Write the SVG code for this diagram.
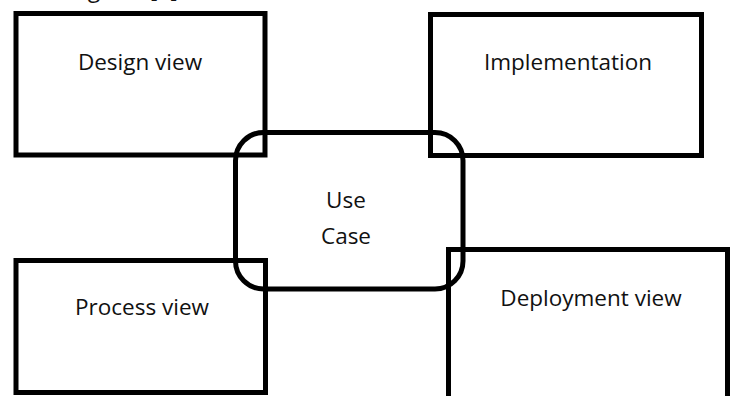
<svg xmlns="http://www.w3.org/2000/svg" width="737" height="396" viewBox="0 0 737 396">
<style>
.box{fill:none;stroke:#000;stroke-width:5}
.lbl{font-family:"Open Sans","Liberation Sans",sans-serif;font-size:22.5px;fill:#111;text-anchor:middle}
</style>
<rect width="737" height="396" fill="#fff"/>
<text x="75" y="-3.5" font-family="Open Sans, Liberation Sans, sans-serif" font-size="23" fill="#111">agram [5]</text>
<g id="design">
<rect class="box" x="16" y="13.5" width="249" height="141.5"/>
<text class="lbl" x="140" y="70">Design view</text>
</g>
<g id="implementation">
<rect class="box" x="430.5" y="14.5" width="271" height="141"/>
<text class="lbl" x="568" y="70">Implementation</text>
</g>
<g id="process">
<rect class="box" x="16" y="260.5" width="249.5" height="132"/>
<text class="lbl" x="142" y="315">Process view</text>
</g>
<g id="deployment">
<rect class="box" x="448.5" y="249.5" width="279" height="160"/>
<text class="lbl" x="591" y="306">Deployment view</text>
</g>
<g id="usecase">
<rect class="box" x="235.5" y="132.5" width="227.5" height="156.5" rx="28" ry="28"/>
<text class="lbl" x="346" y="208">Use</text>
<text class="lbl" x="346" y="244">Case</text>
</g>
<g id="connectors"></g>
</svg>
